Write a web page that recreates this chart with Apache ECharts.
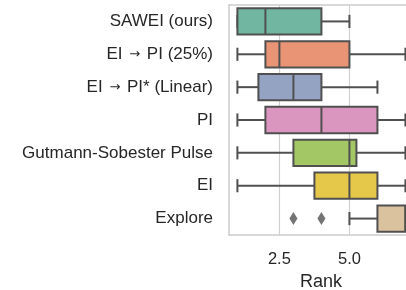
<!DOCTYPE html>
<html>
<head>
<meta charset="utf-8">
<script src="https://cdn.jsdelivr.net/npm/echarts@6/dist/echarts.min.js"></script>
<style>
  html, body { margin: 0; padding: 0; background: #fff; }
  #container { width: 406px; height: 290px; }
</style>
</head>
<body>
<div id="container"></div>
<script>
// data (rank per method)
var methods = ['SAWEI (ours)', 'EI \u2192 PI (25%)', 'EI \u2192 PI* (Linear)', 'PI', 'Gutmann-Sobester Pulse', 'EI', 'Explore'];
var whiskerLow = [1, 1, 1, 1, 1, 1, 5];
var q1 = [1, 2, 1.75, 2, 3, 3.75, 6];
var median = [2, 2.5, 3, 4, 5, 5, 7];
var q3 = [4, 5, 4, 6, 5.25, 6, 7];
var whiskerHigh = [5, 7, 6, 7, 7, 7, 7];
var outlierRank = [3, 4];
var outlierMethod = ['Explore', 'Explore'];
var xTicks = [2.5, 5.0];

// seaborn Set2, desaturated
var colors = ['#71b6a1', '#e99575', '#95a3c3', '#db96c0', '#a2c764', '#e5c849', '#dbc29e'];
var lineColor = '#505050';
var spineColor = '#cccccc';

var boxData = [];
for (var i = 0; i < methods.length; i++) {
	boxData.push([i, whiskerLow[i], q1[i], median[i], q3[i], whiskerHigh[i]]);
}
var outlierData = [];
for (var j = 0; j < outlierRank.length; j++) {
	outlierData.push([outlierRank[j], outlierMethod[j]]);
}

function renderBox(params, api) {
	var cat = api.value(0);
	var lo = api.coord([api.value(1), cat]);
	var b1 = api.coord([api.value(2), cat]);
	var md = api.coord([api.value(3), cat]);
	var b3 = api.coord([api.value(4), cat]);
	var hi = api.coord([api.value(5), cat]);
	var band = api.size([0, 1])[1];
	var bh = band * 0.8;
	var cy = lo[1];
	var st = { stroke: lineColor, lineWidth: 2 };
	return {
		type: 'group',
		children: [
			{ type: 'line', shape: { x1: lo[0], y1: cy, x2: b1[0], y2: cy }, style: st },
			{ type: 'line', shape: { x1: b3[0], y1: cy, x2: hi[0], y2: cy }, style: st },
			{ type: 'line', shape: { x1: lo[0], y1: cy - bh / 4, x2: lo[0], y2: cy + bh / 4 }, style: st },
			{ type: 'line', shape: { x1: hi[0], y1: cy - bh / 4, x2: hi[0], y2: cy + bh / 4 }, style: st },
			{ type: 'rect', shape: { x: b1[0], y: cy - bh / 2, width: b3[0] - b1[0], height: bh },
				style: { fill: colors[cat], stroke: lineColor, lineWidth: 2 } },
			{ type: 'line', shape: { x1: md[0], y1: cy - bh / 2, x2: md[0], y2: cy + bh / 2 }, style: st }
		]
	};
}

var myChart = echarts.init(document.getElementById('container'));
// the original axes run on to 7.3, past the right edge of the picture
var option = {
	animation: false,
	textStyle: { fontFamily: 'Liberation Sans, Arial, sans-serif' },
	grid: { left: 229, top: 5, bottom: 55, right: 0, outerBoundsMode: 'none', containLabel: false },
	xAxis: [{
		type: 'value',
		min: 0.7,
		max: 7.02,
		name: 'Rank',
		nameLocation: 'middle',
		nameGap: 37,
		nameTextStyle: { fontSize: 18, color: '#262626', padding: [0, 0, 0, 7] },
		axisLine: { show: true, onZero: false, lineStyle: { color: spineColor, width: 1.5 } },
		axisTick: { show: false, customValues: xTicks },
		axisLabel: {
			customValues: xTicks, fontSize: 16.5, color: '#262626', margin: 16,
			formatter: function (v) { return v.toFixed(1); }
		},
		splitLine: { show: true, lineStyle: { color: '#d0d0d0', width: 1.2 } }
	}, {
		type: 'value',
		position: 'top',
		min: 0.7,
		max: 7.02,
		axisLine: { show: true, onZero: false, lineStyle: { color: spineColor, width: 1.5 } },
		axisTick: { show: false },
		axisLabel: { show: false },
		splitLine: { show: false }
	}],
	yAxis: {
		type: 'category',
		data: methods,
		inverse: true,
		axisLine: { show: true, lineStyle: { color: spineColor, width: 1.5 } },
		axisTick: { show: false },
		axisLabel: {
			fontSize: 17, color: '#262626', margin: 16,
			formatter: function (v) { return v.replace('\u2192', '{a|\u2192}'); },
			rich: {
				a: { fontFamily: 'DejaVu Sans', fontSize: 13, color: '#262626', padding: [0, 2, 0, 2] }
			}
		},
		splitLine: { show: false }
	},
	series: [
		{
			type: 'custom',
			renderItem: renderBox,
			encode: { x: [1, 2, 3, 4, 5], y: 0 },
			data: boxData,
			clip: false,
			z: 3
		},
		{
			type: 'scatter',
			symbol: 'diamond',
			symbolSize: [8, 13],
			itemStyle: { color: lineColor },
			data: outlierData,
			z: 4
		}
	]
};
myChart.setOption(option, true);
</script>
</body>
</html>
